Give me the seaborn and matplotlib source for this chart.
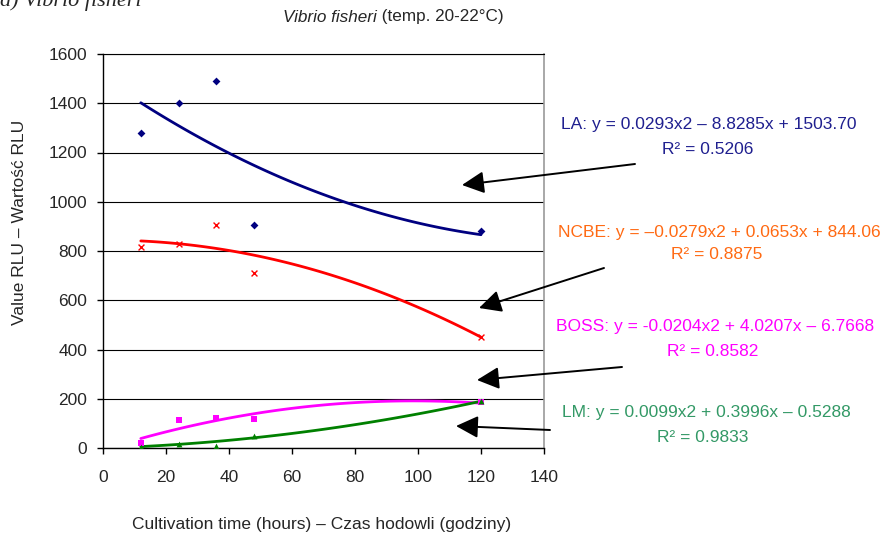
import matplotlib
matplotlib.use("Agg")
import matplotlib.pyplot as plt
import seaborn as sns
import numpy as np

hours = [12, 24, 36, 48, 120]
la = [1280, 1400, 1490, 905, 880]
ncbe = [815, 830, 905, 710, 450]
boss = [20, 115, 120, 118, 187]
lm = [5, 18, 8, 50, 190]

# quadratic trend lines as printed on the chart
la_fit = [0.0293, -8.8285, 1503.70]
ncbe_fit = [-0.0279, 0.0653, 844.06]
boss_fit = [-0.0204, 4.0207, -6.7668]
lm_fit = [0.0099, 0.3996, -0.5288]

labels = [
    "LA: y = 0.0293x2 – 8.8285x + 1503.70",
    "NCBE: y = –0.0279x2 + 0.0653x + 844.06",
    "BOSS: y = -0.0204x2 + 4.0207x – 6.7668",
    "LM: y = 0.0099x2 + 0.3996x – 0.5288",
]
r2 = ["0.5206", "0.8875", "0.8582", "0.9833"]

sns.set_style("white")
plt.rcParams["font.family"] = ["Liberation Sans", "DejaVu Sans"]

W, H = 885, 539
FS = 12.5
fig = plt.figure(figsize=(W / 100, H / 100), dpi=100)
ax = fig.add_axes([103 / W, 1 - 448 / H, 441 / W, 394 / H])

xs = np.linspace(12, 120, 120)
series = [
    (la, la_fit, "#000080", "D", 16),
    (ncbe, ncbe_fit, "#ff0000", "x", 18),
    (boss, boss_fit, "#ff00ff", "s", 16),
    (lm, lm_fit, "#008000", "^", 18),
]
for vals, fit, col, mk, sz in series:
    sns.lineplot(x=xs, y=np.polyval(fit, xs), color=col, lw=2, ax=ax)
    sns.scatterplot(x=hours, y=vals, color=col, marker=mk, s=sz, ax=ax,
                    linewidth=1 if mk == "x" else 0, edgecolor=col, zorder=5)

ax.set_xlim(0, 140)
ax.set_ylim(0, 1600)
ax.set_xticks(range(0, 141, 20))
ax.set_yticks(range(0, 1601, 200))
ax.yaxis.grid(True, color="black", lw=0.8)
ax.set_axisbelow(True)
ax.tick_params(axis="both", direction="out", length=4, width=1, color="black",
               labelsize=FS, left=True, bottom=True)
ax.tick_params(axis="y", pad=7.5)
ax.tick_params(axis="x", pad=12)
for s in ["left", "bottom"]:
    ax.spines[s].set_color("black")
    ax.spines[s].set_linewidth(1)
ax.spines["right"].set_color("#999999")
ax.spines["right"].set_linewidth(1.2)
ax.spines["top"].set_color("black")
ax.spines["top"].set_linewidth(0.8)

fig.text(322 / W, 1 - 524 / H, "Cultivation time (hours) – Czas hodowli (godziny)",
         ha="center", va="center", fontsize=FS)
fig.text(20 / W, 1 - 222 / H, "Value RLU – Wartość RLU", rotation=90,
         ha="center", va="center", fontsize=FS)

# title, italic species name
t1 = fig.text(283 / W, 1 - 17 / H, "Vibrio fisheri", style="italic",
              ha="left", va="center", fontsize=12.3)
fig.canvas.draw()
ax.annotate(" (temp. 20-22°C)", xy=(1, 0.5), xycoords=t1, ha="left", va="center",
            fontsize=12.3, annotation_clip=False)

# panel letter, clipped at the top edge
fig.text(0, 1 - 6 / H, "a) Vibrio fisheri", family="Liberation Serif", style="italic",
         fontsize=16, ha="left", va="baseline")

# equations
text_cols = ["#1f1f8f", "#ff6a13", "#ff00ff", "#339966"]
eq_pos = [(709, 125, 708, 150), (719, 232, 717, 255),
          (715, 326, 713, 352), (706, 413, 703, 437)]
for lab, r, col, (ex, ey, rx, ry) in zip(labels, r2, text_cols, eq_pos):
    fig.text(ex / W, 1 - ey / H, lab, color=col, fontsize=FS, ha="center", va="center")
    fig.text(rx / W, 1 - ry / H, "R² = " + r, color=col, fontsize=FS,
             ha="center", va="center")

arrows = [((635, 164), (462, 185)), ((604, 268), (479, 308)),
          ((622, 367), (477, 380)), ((550, 430), (456, 426))]
for (tx, ty), (hx, hy) in arrows:
    fig.add_artist(matplotlib.patches.FancyArrowPatch(
        (tx / W, 1 - ty / H), (hx / W, 1 - hy / H), transform=fig.transFigure,
        arrowstyle="-|>,head_length=0.9,head_width=0.45", mutation_scale=15,
        color="black", lw=1.4, shrinkA=0, shrinkB=0))

fig.savefig("out.png", dpi=100)
